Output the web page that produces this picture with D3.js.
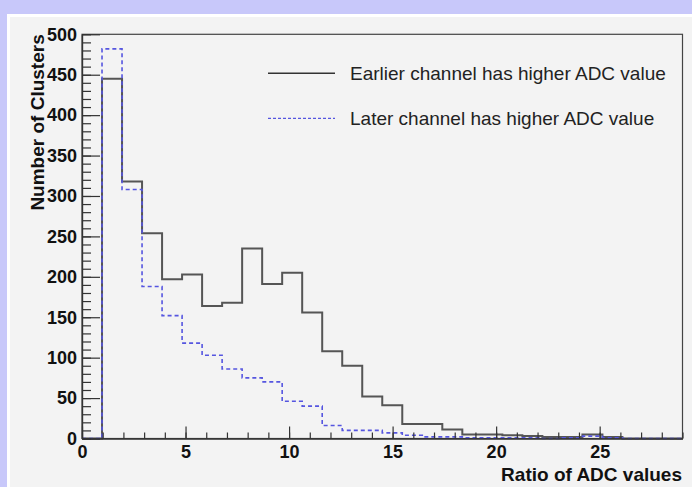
<!DOCTYPE html>
<html><head><meta charset="utf-8">
<script src="https://cdn.jsdelivr.net/npm/d3@7"></script>
<style>html,body{margin:0;padding:0;background:#c8c8fa;}svg{display:block;}</style>
</head><body>
<script>
// Histogram: 30 bins spanning 0..29
const binRange = [0, 29];
const nBins = 30;
const earlier = [0, 445, 318, 254, 197, 203, 164, 168, 235, 191, 205, 156, 108, 90, 52, 41, 18, 18, 11, 5, 5, 4, 3, 2, 2, 5, 2, 0, 0, 0];
const later   = [0, 482, 308, 188, 152, 118, 103, 86, 75, 70, 46, 40, 16, 10, 10, 7, 4, 2, 2, 1, 1, 1, 1, 0, 1, 3, 1, 0, 0, 0];
const seriesNames = ["Earlier channel has higher ADC value", "Later channel has higher ADC value"];
const xMajor = [0, 5, 10, 15, 20, 25];
const xMinor = d3.range(0, 30, 1);
const yMajor = [0, 50, 100, 150, 200, 250, 300, 350, 400, 450, 500];
const yMinor = d3.range(0, 501, 10);
const xTitle = "Ratio of ADC values";
const yTitle = "Number of Clusters";

const W = 692, H = 487;
const svg = d3.select("body").append("svg").attr("width", W).attr("height", H);
svg.append("rect").attr("width", W).attr("height", H).attr("fill", "#c8c8fa");
// pad
svg.append("rect").attr("x", 7).attr("y", 14).attr("width", W - 7).attr("height", H - 14).attr("fill", "#ffffff");
svg.append("rect").attr("x", 10).attr("y", 17).attr("width", W - 10).attr("height", H - 17).attr("fill", "#f3f3f3");

const x = d3.scaleLinear().domain([0, 29]).range([82, 682.5]);
const y = d3.scaleLinear().domain([0, 500]).range([438.5, 34.3]);

const bw = (binRange[1] - binRange[0]) / nBins;
function stepPath(vals) {
  const pts = [[binRange[0], 0]];
  vals.forEach((v, i) => {
    pts.push([binRange[0] + i * bw, v]);
    pts.push([binRange[0] + (i + 1) * bw, v]);
  });
  pts.push([binRange[1], 0]);
  return d3.line().x(d => x(d[0])).y(d => y(d[1]))(pts);
}

const font = "'Liberation Sans', Arial, Helvetica, sans-serif";

// frame
svg.append("rect").attr("x", x(0)).attr("y", y(500)).attr("width", x(29) - x(0)).attr("height", y(0) - y(500))
  .attr("fill", "none").attr("stroke", "#444").attr("stroke-width", 1.2);

// histograms
svg.append("path").attr("d", stepPath(earlier)).attr("fill", "none").attr("stroke", "#555").attr("stroke-width", 2);
svg.append("path").attr("d", stepPath(later)).attr("fill", "none").attr("stroke", "#5555e0").attr("stroke-width", 1.6).attr("stroke-dasharray", "4,3");

// axes
function styleAxis(g) {
  g.select(".domain").attr("stroke", "#333").attr("stroke-width", 1.2);
  g.selectAll(".tick line").attr("stroke", "#333").attr("stroke-width", 1.2);
  g.selectAll("text").attr("font-family", font).attr("font-weight", "bold").attr("font-size", 18).attr("fill", "#111");
}
svg.append("g").attr("transform", `translate(0,${y(0)})`)
  .call(d3.axisBottom(x).tickValues(xMinor).tickSize(-6).tickFormat("").tickSizeOuter(0)).call(styleAxis);
svg.append("g").attr("transform", `translate(0,${y(0)})`)
  .call(d3.axisBottom(x).tickValues(xMajor).tickSize(-12).tickPadding(7).tickFormat(d3.format("d")).tickSizeOuter(0)).call(styleAxis);
svg.append("g").attr("transform", `translate(${x(0)},0)`)
  .call(d3.axisLeft(y).tickValues(yMinor).tickSize(-9).tickFormat("").tickSizeOuter(0)).call(styleAxis);
svg.append("g").attr("transform", `translate(${x(0)},0)`)
  .call(d3.axisLeft(y).tickValues(yMajor).tickSize(-18).tickPadding(5).tickFormat(d3.format("d")).tickSizeOuter(0)).call(styleAxis);

// titles
svg.append("text").attr("x", 682).attr("y", 481).attr("text-anchor", "end")
  .attr("font-family", font).attr("font-weight", "bold").attr("font-size", 19).attr("fill", "#111").text(xTitle);
svg.append("text").attr("transform", `translate(43.5,${y(500)}) rotate(-90)`).attr("text-anchor", "end")
  .attr("font-family", font).attr("font-weight", "bold").attr("font-size", 19).attr("fill", "#111").text(yTitle);

// legend
const leg = [
  {name: seriesNames[0], y: 73.3, stroke: "#333", dash: null, w: 1.5},
  {name: seriesNames[1], y: 118.3, stroke: "#5555e0", dash: "3,2", w: 1.2}
];
leg.forEach(l => {
  svg.append("line").attr("x1", 268).attr("x2", 335).attr("y1", l.y).attr("y2", l.y)
    .attr("stroke", l.stroke).attr("stroke-width", l.w).attr("stroke-dasharray", l.dash);
  svg.append("text").attr("x", 350).attr("y", l.y).attr("dy", "0.35em")
    .attr("font-family", font).attr("font-size", 19).attr("fill", "#222").text(l.name);
});
</script>
</body></html>
